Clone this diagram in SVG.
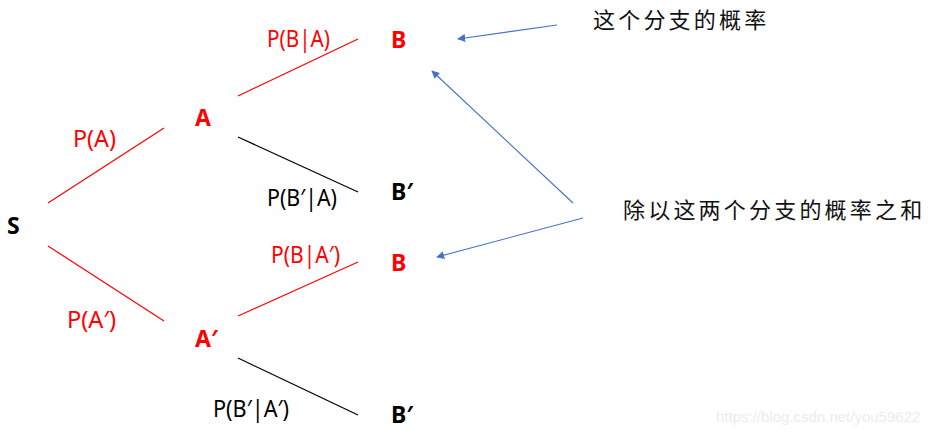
<svg xmlns="http://www.w3.org/2000/svg" width="940" height="435" viewBox="0 0 940 435">
<defs>
<style>
.red{stroke:#ff0000;stroke-width:1.2}
.blk{stroke:#000000;stroke-width:1.2}
.arr{stroke:#4472c4;stroke-width:1.1;marker-end:url(#ah)}
.node{font-family:"Noto Sans","Open Sans",sans-serif;font-weight:bold;font-size:23px}
.lbl{font-family:"Noto Sans","Open Sans",sans-serif;font-size:23px}
.cn{font-family:"Noto Sans CJK SC",sans-serif;font-size:22px;letter-spacing:3.2px;fill:#111}
.r{fill:#ff0000}
.k{fill:#000000}
</style>
<marker id="ah" viewBox="0 0 10 10" refX="9" refY="5" markerWidth="8" markerHeight="8" markerUnits="userSpaceOnUse" orient="auto">
<path d="M0,0 L10,5 L0,10 Z" fill="#4472c4"/>
</marker>
</defs>
<rect width="940" height="435" fill="#ffffff"/>
<g id="connectors">
<line class="red" x1="48" y1="203" x2="164" y2="128"/>
<line class="red" x1="238" y1="96" x2="358" y2="39"/>
<line class="blk" x1="238" y1="137" x2="358" y2="192"/>
<line class="red" x1="48" y1="246" x2="164" y2="321"/>
<line class="red" x1="238" y1="316" x2="358" y2="262"/>
<line class="blk" x1="238" y1="358" x2="358" y2="415"/>
<line class="arr" x1="557" y1="25" x2="458" y2="39"/>
<line class="arr" x1="573" y1="203" x2="432" y2="71"/>
<line class="arr" x1="583" y1="218" x2="437" y2="257"/>
</g>
<g id="node-S"><text class="node k" x="7" y="234">S</text></g>
<g id="node-A"><text class="node r" x="195" y="126">A</text></g>
<g id="node-B1"><text class="node r" x="391" y="48">B</text></g>
<g id="node-B1p"><text class="node k" x="391" y="200">B′</text></g>
<g id="node-Ap"><text class="node r" x="195" y="347">A′</text></g>
<g id="node-B2"><text class="node r" x="391" y="271">B</text></g>
<g id="node-B2p"><text class="node k" x="391" y="423">B′</text></g>
<g id="labels">
<text class="lbl r" x="73" y="147" textLength="43" lengthAdjust="spacingAndGlyphs">P(A)</text>
<text class="lbl r" x="267" y="47" textLength="63" lengthAdjust="spacingAndGlyphs">P(B|A)</text>
<text class="lbl k" x="267" y="206" textLength="70" lengthAdjust="spacingAndGlyphs">P(B′|A)</text>
<text class="lbl r" x="271" y="263" textLength="69" lengthAdjust="spacingAndGlyphs">P(B|A′)</text>
<text class="lbl r" x="67" y="328" textLength="49" lengthAdjust="spacingAndGlyphs">P(A′)</text>
<text class="lbl k" x="213" y="417" textLength="76" lengthAdjust="spacingAndGlyphs">P(B′|A′)</text>
</g>
<g id="note-1"><text class="cn" x="593" y="28">这个分支的概率</text></g>
<g id="note-2"><text class="cn" x="623" y="218">除以这两个分支的概率之和</text></g>
<text x="716" y="422" font-family="Liberation Sans,Arial,sans-serif" font-size="15" fill="#ececec">https://blog.csdn.net/you59622</text>
</svg>
